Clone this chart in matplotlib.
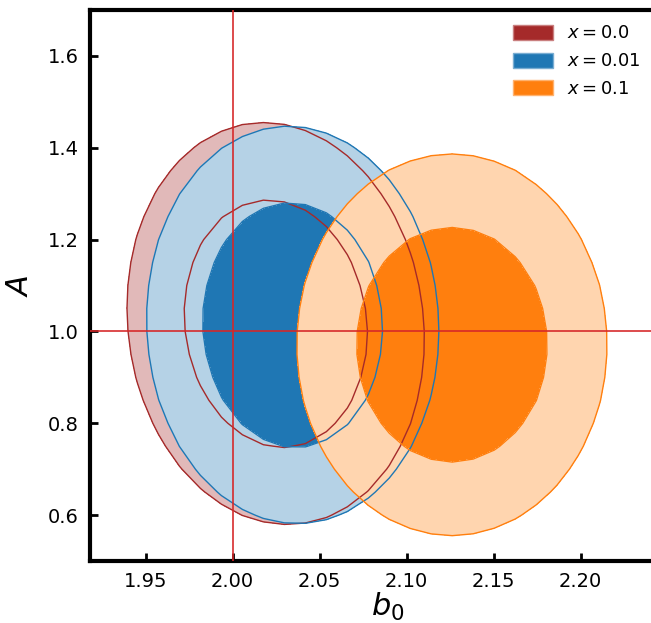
import numpy as np
import matplotlib
matplotlib.use("Agg")
import matplotlib.pyplot as plt
from matplotlib.colors import to_rgb
from matplotlib.patches import Patch

# Gaussian posterior summaries for (b0, A) at three values of x
labels = [r"$x = 0.0$", r"$x = 0.01$", r"$x = 0.1$"]
colors = ["#a52a2a", "#1f77b4", "#ff7f0e"]
b0_mean = [2.0247, 2.0345, 2.1260]
A_mean = [1.017, 1.014, 0.971]
b0_sigma = [0.0350, 0.0344, 0.0365]
A_sigma = [0.179, 0.177, 0.170]
corr = [-0.08, -0.03, 0.0]

# fiducial values
b0_true = 2.00
A_true = 1.0

# credible mass enclosed by the contours
masses = [0.68, 0.95]

xticks = [1.95, 2.00, 2.05, 2.10, 2.15, 2.20]
yticks = [0.6, 0.8, 1.0, 1.2, 1.4, 1.6]


def lighten(c, a=0.33):
    r = np.array(to_rgb(c))
    return tuple(1 - a * (1 - r))


W, H = 651, 623
fig = plt.figure(figsize=(W / 100, H / 100), dpi=100)
xlim = (1.918, 2.26)
ylim = (0.5, 1.7)
px_per_x = 87 / 0.05
left, bottom, top = 90, 62, 613
ax = fig.add_axes([left / W, bottom / H,
                   (xlim[1] - xlim[0]) * px_per_x / W, (top - bottom) / H])

# coarse evaluation grid (gives the faceted contour outlines)
bb = np.linspace(1.885, 2.295, 35)
aa = np.linspace(0.40, 1.80, 29)
B, AA = np.meshgrid(bb, aa)

r2 = [-2 * np.log(1 - m) for m in masses]  # chi^2 thresholds, 2 dof

fields = []
for i in range(len(labels)):
    dx = (B - b0_mean[i]) / b0_sigma[i]
    dy = (AA - A_mean[i]) / A_sigma[i]
    rho = corr[i]
    q = (dx**2 - 2 * rho * dx * dy + dy**2) / (1 - rho**2)
    fields.append(q)

# filled regions
for i, q in enumerate(fields):
    ax.contourf(B, AA, q, levels=[0, r2[0], r2[1]],
                colors=[colors[i], lighten(colors[i])], zorder=1 + i)

# contour outlines on top
for i, q in enumerate(fields):
    ax.contour(B, AA, q, levels=r2, colors=[colors[i]], linewidths=1.0,
               zorder=5 + i)

ax.axvline(b0_true, color="#d62728", lw=1.3, alpha=0.9, zorder=10)
ax.axhline(A_true, color="#d62728", lw=1.3, alpha=0.9, zorder=10)

ax.set_xlim(*xlim)
ax.set_ylim(*ylim)
ax.set_xticks(xticks)
ax.set_xticklabels([f"{t:.2f}" for t in xticks])
ax.set_yticks(yticks)
ax.set_yticklabels([f"{t:.1f}" for t in yticks])
ax.tick_params(direction="in", length=6, width=2, labelsize=14, pad=8)

for s in ["left", "bottom", "top"]:
    ax.spines[s].set_linewidth(3)
ax.spines["right"].set_visible(False)

ax.set_xlabel(r"$b_0$", fontsize=22, labelpad=0)
ax.set_ylabel(r"$A$", fontsize=22, labelpad=10)

handles = [Patch(facecolor=c, edgecolor=lighten(c, 0.6)) for c in colors]
ax.legend(handles, labels, loc="upper left", bbox_to_anchor=(497 / W, 0.987),
          bbox_transform=fig.transFigure, frameon=False, fontsize=13,
          handlelength=2.2, handleheight=0.9, labelspacing=0.55,
          handletextpad=0.75)

fig.savefig("out.png", dpi=100)
